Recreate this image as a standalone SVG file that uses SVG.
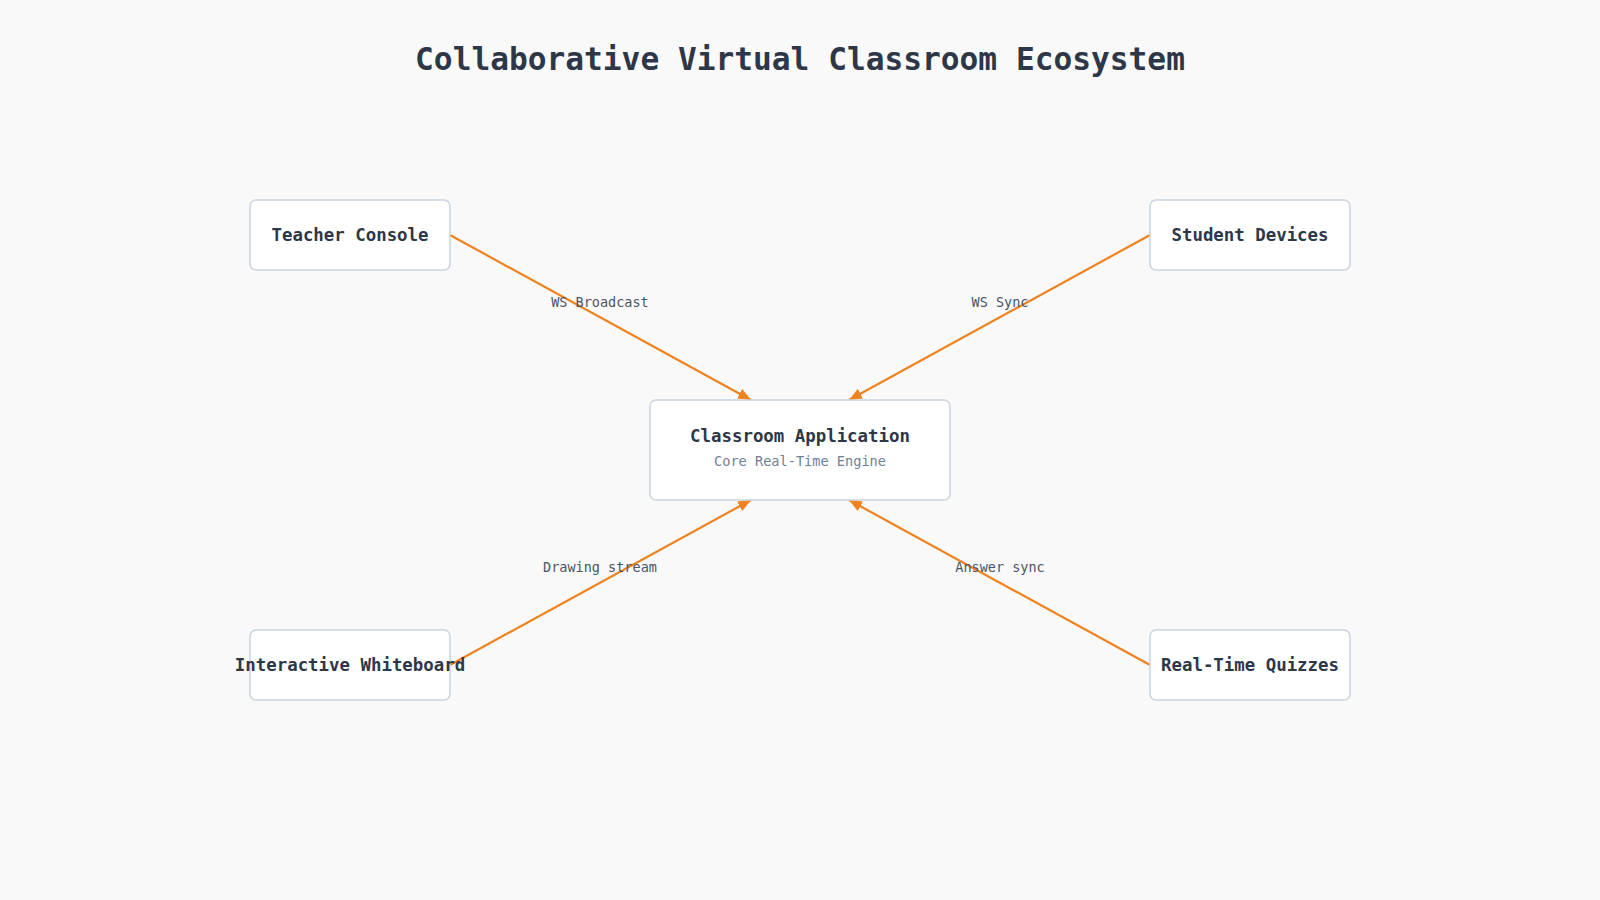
<svg xmlns="http://www.w3.org/2000/svg" width="1600" height="900" viewBox="0 0 1600 900">
  <defs>
    <marker id="arrow" markerUnits="userSpaceOnUse" markerWidth="14" markerHeight="11" refX="13" refY="5.5" orient="auto">
      <path d="M0,0 L13,5.5 L0,11 Z" fill="#f0821e"/>
    </marker>
    <style>
      .title { font-family: "DejaVu Sans Mono", "Liberation Mono", monospace; font-size: 31.2px; font-weight: bold; fill: #2d3748; text-anchor: middle; }
      .box { fill: #ffffff; stroke: #cbd3de; stroke-width: 1.5; }
      .label { font-family: "DejaVu Sans Mono", "Liberation Mono", monospace; font-size: 17.4px; font-weight: bold; fill: #2d3748; text-anchor: middle; }
      .sub { font-family: "DejaVu Sans Mono", "Liberation Mono", monospace; font-size: 13.6px; fill: #718096; text-anchor: middle; }
      .edge { stroke: #f0821e; stroke-width: 2.2; fill: none; marker-end: url(#arrow); }
      .elabel { font-family: "DejaVu Sans Mono", "Liberation Mono", monospace; font-size: 13.5px; fill: #4a5568; text-anchor: middle; }
    </style>
  </defs>
  <rect x="0" y="0" width="1600" height="900" fill="#f9f9f9"/>
  <text class="title" x="800" y="70">Collaborative Virtual Classroom Ecosystem</text>

  <g id="connectors">
    <line class="edge" x1="450" y1="235" x2="751" y2="400"/>
    <line class="edge" x1="1150" y1="235" x2="849" y2="400"/>
    <line class="edge" x1="450" y1="665" x2="751" y2="500"/>
    <line class="edge" x1="1150" y1="665" x2="849" y2="500"/>
    <text class="elabel" x="600" y="307">WS Broadcast</text>
    <text class="elabel" x="1000" y="307">WS Sync</text>
    <text class="elabel" x="600" y="572">Drawing stream</text>
    <text class="elabel" x="1000" y="572">Answer sync</text>
  </g>

  <g id="node-app">
    <rect class="box" x="650" y="400" width="300" height="100" rx="6"/>
    <text class="label" x="800" y="442">Classroom Application</text>
    <text class="sub" x="800" y="466">Core Real-Time Engine</text>
  </g>
  <g id="node-teacher">
    <rect class="box" x="250" y="200" width="200" height="70" rx="6"/>
    <text class="label" x="350" y="241">Teacher Console</text>
  </g>
  <g id="node-student">
    <rect class="box" x="1150" y="200" width="200" height="70" rx="6"/>
    <text class="label" x="1250" y="241">Student Devices</text>
  </g>
  <g id="node-whiteboard">
    <rect class="box" x="250" y="630" width="200" height="70" rx="6"/>
    <text class="label" x="350" y="671">Interactive Whiteboard</text>
  </g>
  <g id="node-quizzes">
    <rect class="box" x="1150" y="630" width="200" height="70" rx="6"/>
    <text class="label" x="1250" y="671">Real-Time Quizzes</text>
  </g>
</svg>
